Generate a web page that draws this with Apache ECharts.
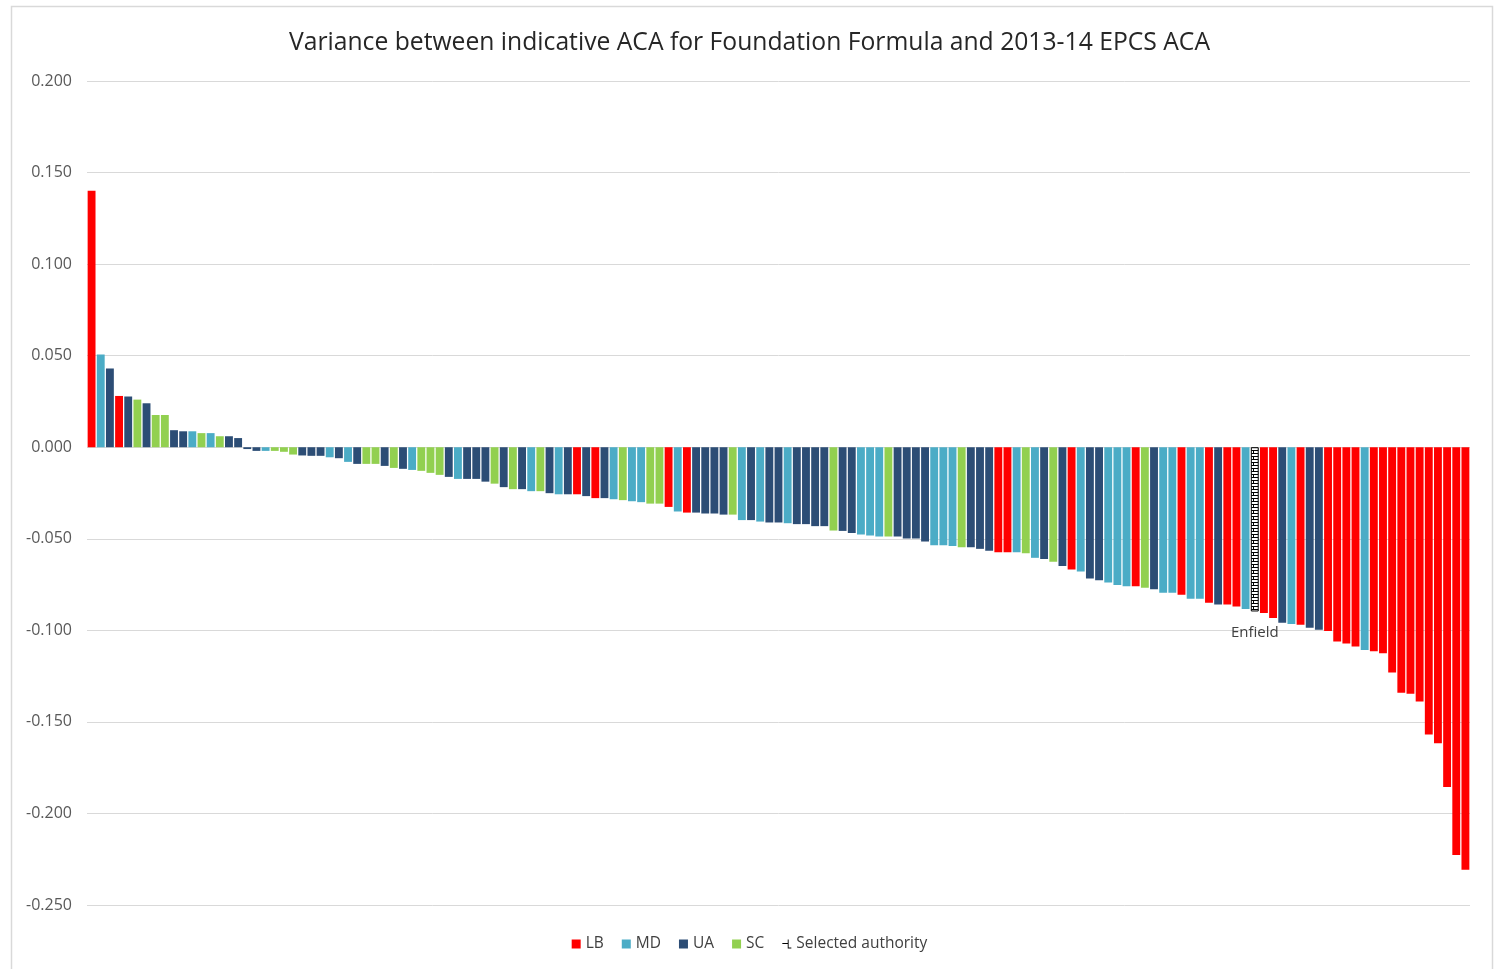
<!DOCTYPE html>
<html>
<head>
<meta charset="utf-8">
<title>Variance between indicative ACA</title>
<script src="https://cdn.jsdelivr.net/npm/echarts@6/dist/echarts.min.js"></script>
<style>
  html, body { margin: 0; padding: 0; background: #fff; }
  #chart { width: 1499px; height: 969px; }
</style>
</head>
<body>
<div id="chart"></div>
<script>
// authority types: LB = London borough, MD = metropolitan district,
// UA = unitary authority, SC = shire county, SEL = selected authority
var typeNames = ['LB', 'MD', 'UA', 'SC'];
var typeColors = ['#ff0000', '#4bacc6', '#2c4d75', '#92d050'];
var selectedName = 'Enfield';

// variance per authority, sorted as in the chart
var values = [
  0.140, 0.0506, 0.043, 0.028, 0.0277, 0.026, 0.024, 0.0176, 0.0176, 0.0093,
  0.0087, 0.0087, 0.0077, 0.0077, 0.006, 0.006, 0.005, -0.001, -0.002, -0.002,
  -0.002, -0.0025, -0.004, -0.0045, -0.0047, -0.0047, -0.0055, -0.006, -0.008, -0.0091,
  -0.0091, -0.0091, -0.0102, -0.0113, -0.0118, -0.0124, -0.0129, -0.014, -0.0151, -0.0162,
  -0.0173, -0.0173, -0.0173, -0.0188, -0.0199, -0.0218, -0.0229, -0.0229, -0.024, -0.024,
  -0.0251, -0.0257, -0.0257, -0.0257, -0.0267, -0.0278, -0.0278, -0.0284, -0.0289, -0.0295,
  -0.030, -0.0308, -0.0308, -0.0326, -0.0351, -0.0357, -0.0357, -0.0362, -0.0362, -0.0368,
  -0.0368, -0.0398, -0.0398, -0.0406, -0.0411, -0.0411, -0.0415, -0.042, -0.042, -0.0431,
  -0.0431, -0.0455, -0.0457, -0.0468, -0.0477, -0.0482, -0.0488, -0.0488, -0.0488, -0.0499,
  -0.0499, -0.0515, -0.0535, -0.0535, -0.054, -0.0546, -0.0546, -0.0555, -0.0566, -0.0573,
  -0.0573, -0.0573, -0.0579, -0.0604, -0.0611, -0.0626, -0.0648, -0.0668, -0.0679, -0.0717,
  -0.0726, -0.0739, -0.0753, -0.0759, -0.0759, -0.0768, -0.0775, -0.0795, -0.0795, -0.0806,
  -0.0828, -0.0828, -0.085, -0.0859, -0.0859, -0.087, -0.0884, -0.0897, -0.0906, -0.0933,
  -0.0959, -0.0965, -0.097, -0.0986, -0.0997, -0.1003, -0.1061, -0.1072, -0.1088, -0.1108,
  -0.1114, -0.1125, -0.123, -0.1341, -0.1347, -0.1389, -0.1569, -0.1616, -0.1856, -0.2227,
  -0.2307
];

var types = [
  'LB','MD','UA','LB','UA','SC','UA','SC','SC','UA',
  'UA','MD','SC','MD','SC','UA','UA','UA','UA','MD',
  'SC','SC','SC','UA','UA','UA','MD','UA','MD','UA',
  'SC','SC','UA','SC','UA','MD','SC','SC','SC','UA',
  'MD','UA','UA','UA','SC','UA','SC','UA','MD','SC',
  'UA','MD','UA','LB','UA','LB','UA','MD','SC','MD',
  'MD','SC','SC','LB','MD','LB','UA','UA','UA','UA',
  'SC','MD','UA','MD','UA','UA','MD','UA','UA','UA',
  'UA','SC','UA','UA','MD','MD','MD','SC','UA','UA',
  'UA','UA','MD','MD','MD','SC','UA','UA','UA','LB',
  'LB','MD','SC','MD','UA','SC','UA','LB','MD','UA',
  'UA','MD','MD','MD','LB','SC','UA','MD','MD','LB',
  'MD','MD','LB','UA','LB','LB','MD','SEL','LB','LB',
  'UA','MD','LB','UA','UA','LB','LB','LB','LB','MD',
  'LB','LB','LB','LB','LB','LB','LB','LB','LB','LB',
  'LB'
];

var yMin = -0.25, yMax = 0.2, yStep = 0.05;

var categories = values.map(function (v, i) { return 'LA ' + (i + 1); });

// brick-like pattern for the selected authority
function makePattern() {
  var c = document.createElement('canvas');
  c.width = 8; c.height = 6;
  var g = c.getContext('2d');
  g.fillStyle = '#fff';
  g.fillRect(0, 0, 8, 6);
  g.fillStyle = '#000';
  g.fillRect(0, 0, 8, 1);
  g.fillRect(0, 3, 8, 1);
  g.fillRect(5, 0, 1, 3);
  g.fillRect(2, 3, 1, 3);
  return c;
}
var pattern = makePattern();

var series = typeNames.map(function (t, k) {
  return {
    name: t,
    type: 'bar',
    stack: 'all',
    barCategoryGap: '14%',
    itemStyle: { color: typeColors[k] },
    data: values.map(function (v, i) { return types[i] === t ? v : '-'; })
  };
});

series.push({
  name: 'Selected authority',
  type: 'bar',
  stack: 'all',
  barCategoryGap: '14%',
  itemStyle: { color: { image: pattern, repeat: 'repeat' }, borderColor: '#000', borderWidth: 1 },
  label: {
    show: true,
    position: 'bottom',
    distance: 14,
    formatter: function () { return selectedName; },
    color: '#404040',
    fontFamily: 'Open Sans',
    fontSize: 15
  },
  data: values.map(function (v, i) { return types[i] === 'SEL' ? v : '-'; })
});

var chart = echarts.init(document.getElementById('chart'));
chart.setOption({
  animation: false,
  backgroundColor: '#fff',
  textStyle: { fontFamily: 'Open Sans' },
  title: {
    text: 'Variance between indicative ACA for Foundation Formula and 2013-14 EPCS ACA',
    left: 'center',
    top: 25,
    textStyle: { fontFamily: 'Open Sans', fontWeight: 'normal', fontSize: 24.7, color: '#262626' }
  },
  graphic: [{
    type: 'rect',
    shape: { x: 11.5, y: 6.5, width: 1481, height: 970 },
    style: { fill: 'none', stroke: '#d9d9d9', lineWidth: 1.5 },
    silent: true
  }],
  legend: {
    bottom: 12,
    left: 'center',
    itemWidth: 9,
    itemHeight: 9,
    itemGap: 18,
    textStyle: { color: '#404040', fontSize: 15.5, fontFamily: 'Open Sans' },
    data: [
      { name: 'LB', icon: 'rect' },
      { name: 'MD', icon: 'rect' },
      { name: 'UA', icon: 'rect' },
      { name: 'SC', icon: 'rect' },
      { name: 'Selected authority', icon: 'path://M0,4 L6,4 L6,0 L7,0 L7,9 L10,9 L10,10 L6,10 L6,5 L0,5 Z',
        itemStyle: { color: '#000', borderWidth: 0 } }
    ]
  },
  grid: { left: 87, right: 29, top: 81, bottom: 64 },
  xAxis: {
    type: 'category',
    data: categories,
    axisLine: { show: false },
    axisTick: { show: false },
    axisLabel: { show: false }
  },
  yAxis: {
    type: 'value',
    min: yMin,
    max: yMax,
    interval: yStep,
    axisLine: { show: false },
    axisTick: { show: false },
    axisLabel: {
      color: '#595959',
      fontSize: 16,
      margin: 15,
      formatter: function (v) { return v.toFixed(3); }
    },
    splitLine: { lineStyle: { color: '#d9d9d9', width: 1 } }
  },
  series: series
});
</script>
</body>
</html>
